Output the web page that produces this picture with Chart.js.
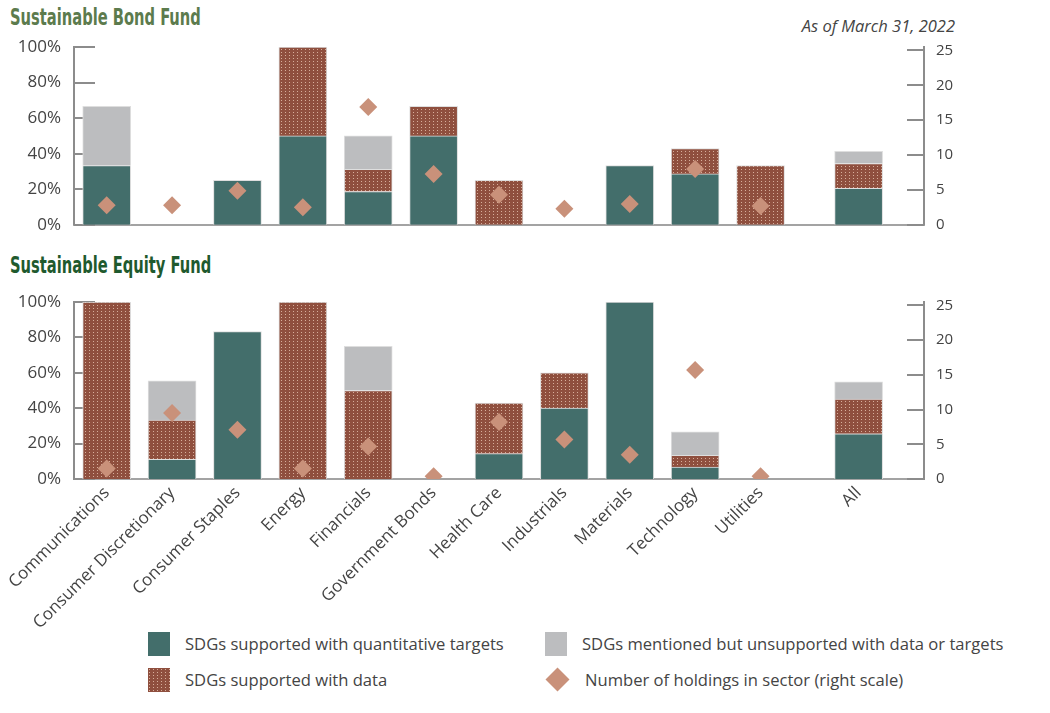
<!DOCTYPE html>
<html>
<head>
<meta charset="utf-8">
<script src="https://cdn.jsdelivr.net/npm/chart.js@4.4.1/dist/chart.umd.min.js"></script>
<style>
  body { margin: 0; background: #fff; font-family: 'Open Sans', sans-serif; }
  #wrap { position: relative; width: 1050px; height: 713px; overflow: hidden; }
  canvas { position: absolute; left: 0; }
  #bond { top: 0; }
  #equity { top: 250px; }
  .fundTitle { position: absolute; left: 10px; font-family: 'DejaVu Sans Condensed', 'Liberation Sans Narrow', 'Roboto', sans-serif;
    font-weight: bold; font-size: 23px; line-height: 26px; transform: scaleX(0.71); transform-origin: 0 0; white-space: nowrap; }
  #t1 { top: 4px; color: #5c7b4d; }
  #t2 { top: 252px; color: #1f5a2e; }
  #asof { position: absolute; right: 95px; top: 14px; font-style: italic; font-size: 16.5px; color: #444; }
  #legend { position: absolute; top: 631px; left: 148px; display: grid; grid-template-columns: 397px 480px; row-gap: 11px; }
  .item { display: flex; align-items: center; font-size: 16.6px; color: #444; height: 25px; white-space: nowrap; }
  .sw { flex: 0 0 22px; width: 22px; height: 24px; margin-right: 15px; }
  .dia { flex: 0 0 17px; width: 17px; height: 17px; margin: 0 19px 0 4px; transform: rotate(45deg); background: #c9917a; }
</style>
</head>
<body>
<div id="wrap">
  <div class="fundTitle" id="t1">Sustainable Bond Fund</div>
  <div id="asof">As of March 31, 2022</div>
  <canvas id="bond" width="1050" height="248"></canvas>
  <div class="fundTitle" id="t2">Sustainable Equity Fund</div>
  <canvas id="equity" width="1050" height="380"></canvas>
  <div id="legend"></div>
</div>
<script>
// sectors, "All" sits after a small gap
var categories = ['Communications', 'Consumer Discretionary', 'Consumer Staples', 'Energy', 'Financials',
  'Government Bonds', 'Health Care', 'Industrials', 'Materials', 'Technology', 'Utilities', 'All'];

var seriesNames = ['SDGs supported with quantitative targets', 'SDGs supported with data',
  'SDGs mentioned but unsupported with data or targets', 'Number of holdings in sector (right scale)'];

// Sustainable Bond Fund (% of holdings, holdings count)
var bondQuant     = [33.3, null, 25, 50, 18.75, 50, null, null, 33.3, 28.6, null, 20.5];
var bondData      = [null, null, null, 50, 12.5, 16.7, 25, null, null, 14.3, 33.3, 14];
var bondMentioned = [33.3, null, null, null, 18.75, null, null, null, null, null, null, 6.8];
var bondHoldings  = [2.8, 2.8, 4.9, 2.5, 16.9, 7.3, 4.3, 2.3, 3.0, 8.0, 2.7, null];

// Sustainable Equity Fund
var equityQuant     = [null, 11.1, 83.3, null, null, null, 14.3, 40, 100, 6.7, null, 25.5];
var equityData      = [100, 22.2, null, 100, 50, null, 28.6, 20, null, 6.7, null, 19.6];
var equityMentioned = [null, 22.2, null, null, 25, null, null, null, null, 13.3, null, 9.8];
var equityHoldings  = [1.5, 9.5, 7.1, 1.5, 4.7, 0.4, 8.2, 5.7, 3.5, 15.7, 0.4, null];

var pctTicks = [0, 20, 40, 60, 80, 100];
var countTicks = [0, 5, 10, 15, 20, 25];

var TEAL = '#436e6b', BROWN = '#8f4f3e', GREY = '#bcbdbf', DIAMOND = '#c9917a';
var AXIS = '#8c8c8c', TXT = '#444444';

// x position of each category: one slot each, half slot gap before "All"
var xPos = categories.map(function(c, i) { return c === 'All' ? i + 0.5 : i; });

function dotCanvas() {
  var c = document.createElement('canvas');
  c.width = 4; c.height = 3;
  var g = c.getContext('2d');
  g.fillStyle = BROWN; g.fillRect(0, 0, 4, 3);
  g.fillStyle = '#d6ae9b'; g.fillRect(1, 1, 1, 1);
  return c;
}
var dotsTile = dotCanvas();
var DOTS = dotsTile.getContext('2d').createPattern(dotsTile, 'repeat');

function pts(arr) {
  return arr.map(function(v, i) { return { x: xPos[i], y: v }; });
}

// tick marks that point into the plot
var innerTicks = {
  id: 'innerTicks',
  beforeDatasetsDraw: function(chart) {
    var ctx = chart.ctx, a = chart.chartArea;
    ctx.save();
    ctx.strokeStyle = AXIS;
    ctx.lineWidth = 2;
    chart.scales.y.ticks.forEach(function(t) {
      var py = Math.round(chart.scales.y.getPixelForValue(t.value));
      ctx.beginPath(); ctx.moveTo(a.left, py); ctx.lineTo(a.left + 21, py); ctx.stroke();
    });
    chart.scales.y1.ticks.forEach(function(t) {
      var py = Math.round(chart.scales.y1.getPixelForValue(t.value));
      ctx.beginPath(); ctx.moveTo(a.right - 17, py); ctx.lineTo(a.right, py); ctx.stroke();
    });
    ctx.restore();
  }
};

function makeChart(id, quant, data, mentioned, holdings, showLabels, padTop, xHeight) {
  var tickFont = { family: 'Open Sans', size: 17 };
  return new Chart(document.getElementById(id), {
    type: 'bar',
    data: {
      datasets: [
        { type: 'scatter', label: seriesNames[3], data: pts(holdings), yAxisID: 'y1', order: 0,
          pointStyle: 'rectRot', pointRadius: 9, pointBackgroundColor: DIAMOND, pointBorderWidth: 0 },
        { label: seriesNames[0], data: pts(quant), backgroundColor: TEAL, stack: 's', order: 1 },
        { label: seriesNames[1], data: pts(data), backgroundColor: DOTS, stack: 's', order: 1 },
        { label: seriesNames[2], data: pts(mentioned), backgroundColor: GREY, stack: 's', order: 1 }
      ]
    },
    options: {
      responsive: false,
      animation: false,
      events: [],
      layout: { padding: { top: padTop, left: 0, right: 0, bottom: 0 } },
      datasets: { bar: { barThickness: 48, borderWidth: 1, borderColor: '#dedede' } },
      plugins: { legend: { display: false }, tooltip: { enabled: false } },
      scales: {
        x: {
          type: 'linear', min: -0.5, max: 12.5, offset: false,
          grid: { display: false, drawTicks: false },
          border: { display: true, color: '#a3a3a3', width: 2 },
          afterBuildTicks: function(s) { s.ticks = xPos.map(function(v) { return { value: v }; }); },
          afterFit: function(s) { s.height = xHeight; },
          ticks: {
            display: showLabels, autoSkip: false, minRotation: 45, maxRotation: 45, padding: 4,
            color: TXT, font: tickFont,
            callback: function(v, i) { return categories[i]; }
          }
        },
        y: {
          position: 'left', min: 0, max: 100,
          grid: { display: false, drawTicks: false },
          border: { display: true, color: AXIS, width: 2 },
          afterBuildTicks: function(s) { s.ticks = pctTicks.map(function(v) { return { value: v }; }); },
          afterFit: function(s) { s.width = 74; },
          ticks: { padding: 13, color: TXT, font: tickFont, callback: function(v) { return v + '%'; } }
        },
        y1: {
          position: 'right', min: 0, max: 25.5,
          grid: { display: false, drawTicks: false },
          border: { display: true, color: AXIS, width: 2 },
          afterBuildTicks: function(s) { s.ticks = countTicks.map(function(v) { return { value: v }; }); },
          afterFit: function(s) { s.width = 126; },
          ticks: { padding: 12, color: TXT, font: { family: 'Open Sans', size: 15 } }
        }
      }
    },
    plugins: [innerTicks]
  });
}

makeChart('bond', bondQuant, bondData, bondMentioned, bondHoldings, false, 47, 17);
makeChart('equity', equityQuant, equityData, equityMentioned, equityHoldings, true, 52, 151);

// legend, two columns like the original
var legendOrder = [0, 2, 1, 3];
var swatch = [
  'background:' + TEAL,
  'background-image:url(' + dotsTile.toDataURL() + ')',
  'background:' + GREY
];
var html = '';
legendOrder.forEach(function(k) {
  var mark = k === 3 ? '<div class="dia"></div>' : '<div class="sw" style="' + swatch[k] + '"></div>';
  html += '<div class="item">' + mark + '<span>' + seriesNames[k] + '</span></div>';
});
document.getElementById('legend').innerHTML = html;
</script>
</body>
</html>
